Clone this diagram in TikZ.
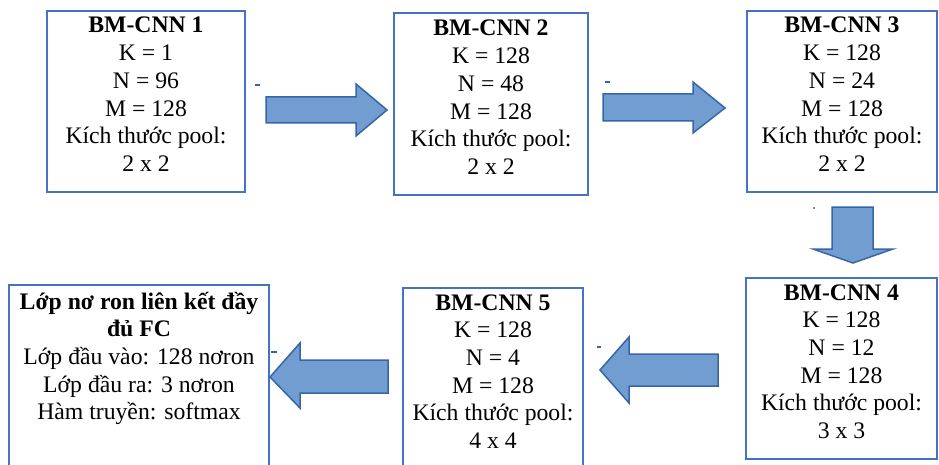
\documentclass[tikz,border=0pt]{standalone}
\usepackage{fontspec}
\setmainfont{Liberation Serif}
\definecolor{boxline}{RGB}{68,114,196}
\definecolor{arrfill}{RGB}{113,157,208}
\definecolor{arrline}{RGB}{55,101,170}
\begin{document}
\begin{tikzpicture}[x=1pt,y=-1pt,
  box/.style={draw=boxline,line width=2pt,fill=none,inner sep=0pt,outer sep=0pt},
  txt/.style={align=center,inner sep=0pt,font=\fontsize{23.7}{27.7}\selectfont,text=black},
  blockarrow/.style={fill=arrfill,draw=arrline,line width=1.5pt,line join=miter},
  speck/.style={draw=arrline,line width=2pt}]
\useasboundingbox (0,0) rectangle (939,465);
% boxes
\node[box,minimum width=198pt,minimum height=181pt] (b1) at (146,101.5) {};
\node[box,minimum width=194pt,minimum height=182pt] (b2) at (491,104) {};
\node[box,minimum width=190pt,minimum height=181pt] (b3) at (842,101.5) {};
\node[box,minimum width=191pt,minimum height=181pt] (b4) at (841.5,368.5) {};
\node[box,minimum width=180pt,minimum height=190pt] (b5) at (493,383) {};
\node[box,minimum width=260pt,minimum height=190pt] (fc) at (139,380) {};
% texts (anchor base = baseline of last line)
\node[txt,anchor=base] (t1) at (146,171.5) {\textbf{BM-CNN 1}\\K = 1\\N = 96\\M = 128\\Kích thước pool:\\2 x 2};
\node[txt,anchor=base] (t2) at (491,174.5) {\textbf{BM-CNN 2}\\K = 128\\N = 48\\M = 128\\Kích thước pool:\\2 x 2};
\node[txt,anchor=base] (t3) at (842,171.5) {\textbf{BM-CNN 3}\\K = 128\\N = 24\\M = 128\\Kích thước pool:\\2 x 2};
\node[txt,anchor=base] (t4) at (841.5,438.5) {\textbf{BM-CNN 4}\\K = 128\\N = 12\\M = 128\\Kích thước pool:\\3 x 3};
\node[txt,anchor=base] (t5) at (493,448.5) {\textbf{BM-CNN 5}\\K = 128\\N = 4\\M = 128\\Kích thước pool:\\4 x 4};
\node[txt,anchor=base] (tfc) at (139,419.8) {\textbf{Lớp nơ ron liên kết đầy}\\\textbf{đủ FC}\\Lớp đầu vào: 128 nơron\\Lớp đầu ra: 3 nơron\\Hàm truyền: softmax};
% block arrows
\draw[blockarrow] (266,97) -- (356,97) -- (356,84) -- (387,110) -- (356,136) -- (356,123) -- (266,123) -- cycle;
\draw[blockarrow] (603,94) -- (693,94) -- (693,82) -- (725,108) -- (693,133) -- (693,121) -- (603,121) -- cycle;
\draw[blockarrow] (832,207) -- (873,207) -- (873,249) -- (893,249) -- (853,263) -- (813,249) -- (832,249) -- cycle;
\draw[blockarrow] (718,354) -- (629,354) -- (629,337) -- (600,370) -- (629,403) -- (629,386) -- (718,386) -- cycle;
\draw[blockarrow] (388,360) -- (300,360) -- (300,343) -- (270,377) -- (300,408) -- (300,393) -- (388,393) -- cycle;
% small specks
\draw[speck] (255,85) -- (260,85);
\draw[speck] (605,82) -- (610,82);
\fill[arrline] (814,208) circle (1.2pt);
\draw[speck] (597,347) -- (601,347);
\draw[speck] (271,352) -- (277,352);
\end{tikzpicture}
\end{document}
